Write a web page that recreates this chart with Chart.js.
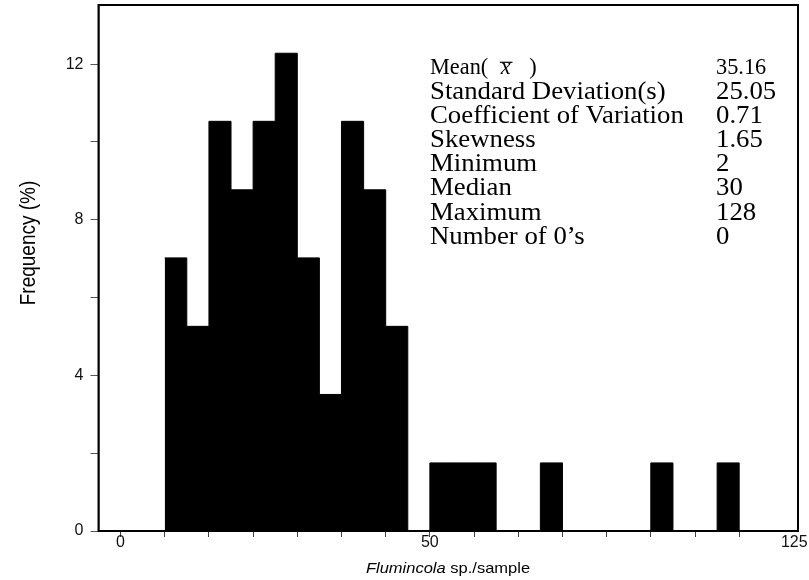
<!DOCTYPE html>
<html>
<head>
<meta charset="utf-8">
<script src="https://cdn.jsdelivr.net/npm/chart.js@4.4.0/dist/chart.umd.min.js"></script>
<style>
  html, body { margin: 0; padding: 0; background: #fff; }
  #wrap { width: 809px; height: 580px; }
</style>
</head>
<body>
<div id="wrap"><canvas id="histChart" width="809" height="580"></canvas></div>
<script>
// --- values ---
// left edge of each bin (x units) and its frequency (%); last edge closes the last bin
const binEdges = [7.14, 10.71, 14.29, 17.86, 21.43, 25.00, 28.57, 32.14, 35.71, 39.29, 42.86, 46.43,
  50.00, 53.57, 57.14, 60.71, 64.29, 67.86, 71.43, 75.00, 78.57, 82.14, 85.71, 89.29, 92.86, 96.43, 100.00];
const binFreq = [7.02, 5.26, 10.53, 8.77, 10.53, 12.28, 7.02, 3.51, 10.53, 8.77, 5.26, 0,
  1.75, 1.75, 1.75, 0, 0, 1.75, 0, 0, 0, 0, 1.75, 0, 0, 1.75, 0];

// axis ticks (the original labels its right end "125")
const xTickValues = [0, 7.14, 14.29, 21.43, 28.57, 35.71, 42.86, 50, 57.14, 64.29, 71.43, 78.57, 85.71, 92.86, 100, 108.9];
const xTickLabels = ["0", "", "", "", "", "", "", "50", "", "", "", "", "", "", "", "125"];
const yTickValues = [0, 2, 4, 6, 8, 10, 12];
const yTickLabels = ["0", "", "4", "", "8", "", "12"];

// summary statistics box
const statLabels = ["Mean(", "Standard Deviation(s)", "Coefficient of Variation", "Skewness",
  "Minimum", "Median", "Maximum", "Number of 0\u2019s"];
const statValues = ["35.16", "25.05", "0.71", "1.65", "2", "30", "128", "0"];

const SANS = '"Liberation Sans", Arial, sans-serif';
const SERIF = '"Liberation Serif", "Times New Roman", serif';

// frame, stats text and axis titles
const decorations = {
  id: "decorations",
  afterDraw(chart) {
    const ctx = chart.ctx;
    const a = chart.chartArea;
    ctx.save();

    // box round the plot
    ctx.strokeStyle = "#000";
    ctx.lineWidth = 2;
    ctx.strokeRect(a.left, a.top, a.right - a.left, a.bottom - a.top);

    // stats block
    ctx.fillStyle = "#000";
    ctx.textBaseline = "alphabetic";
    statLabels.forEach((label, i) => {
      const y = 74.3 + i * 24.2;
      const size = i === 0 ? 23 : 25.5;
      const sx = i === 0 ? 0.97 : 1.05;

      ctx.save();
      ctx.translate(430, y);
      ctx.scale(sx, 1);
      ctx.font = size + "px " + SERIF;
      ctx.fillText(label, 0, 0);
      if (i === 0) {
        const w = ctx.measureText(label).width;
        ctx.font = "italic " + size + "px " + SERIF;
        const xw = ctx.measureText("x").width;
        ctx.fillText("x", w + 13, 0);
        ctx.beginPath();
        ctx.lineWidth = 1.2;
        ctx.moveTo(w + 12, -12);
        ctx.lineTo(w + 25, -12);
        ctx.stroke();
        ctx.font = size + "px " + SERIF;
        ctx.fillText(")", w + 13 + xw + 19, 0);
      }
      ctx.restore();

      ctx.save();
      ctx.translate(716, y);
      ctx.scale(sx, 1);
      ctx.font = size + "px " + SERIF;
      ctx.fillText(statValues[i], 0, 0);
      ctx.restore();
    });

    // x axis title: italic genus + plain rest
    ctx.save();
    ctx.translate(448, 573);
    ctx.scale(1.1, 1);
    ctx.font = "italic 15px " + SANS;
    const genus = "Flumincola";
    const gw = ctx.measureText(genus).width;
    ctx.font = "15px " + SANS;
    const rest = " sp./sample";
    const rw = ctx.measureText(rest).width;
    const x0 = -(gw + rw) / 2;
    ctx.font = "italic 15px " + SANS;
    ctx.fillText(genus, x0, 0);
    ctx.font = "15px " + SANS;
    ctx.fillText(rest, x0 + gw, 0);
    ctx.restore();

    // y axis title
    ctx.save();
    ctx.translate(35, 243);
    ctx.rotate(-Math.PI / 2);
    ctx.scale(1, 1.15);
    ctx.textAlign = "center";
    ctx.font = "19px " + SANS;
    ctx.fillText("Frequency (%)", 0, 0);
    ctx.restore();

    ctx.restore();
  },
};

new Chart(document.getElementById("histChart"), {
  type: "line",
  data: {
    datasets: [
      {
        data: binEdges.map((x, i) => ({ x: x, y: binFreq[i] })),
        stepped: "before",
        fill: "origin",
        backgroundColor: "#000",
        borderColor: "#000",
        borderWidth: 1,
        pointRadius: 0,
      },
    ],
  },
  options: {
    responsive: false,
    animation: false,
    devicePixelRatio: 1,
    layout: { padding: { top: 5, right: 11, left: 0, bottom: 0 } },
    plugins: {
      legend: { display: false },
      tooltip: { enabled: false },
    },
    scales: {
      x: {
        type: "linear",
        min: -3.56,
        max: 109.5,
        afterBuildTicks: (s) => {
          s.ticks = xTickValues.map((v) => ({ value: v }));
        },
        afterFit: (s) => {
          s.height = 49;
          s.paddingLeft = 0;
          s.paddingRight = 0;
        },
        ticks: {
          autoSkip: false,
          maxRotation: 0,
          padding: -2,
          color: "#111",
          font: { family: SANS, size: 16, lineHeight: 1 },
          callback: (v, i) => xTickLabels[i],
        },
        grid: {
          drawOnChartArea: false,
          drawTicks: true,
          tickLength: 6,
          tickColor: (c) => (c.tick && c.tick.value > 105 ? "rgba(0,0,0,0)" : "#444"),
        },
        border: { display: true, color: "#000", width: 1.5 },
      },
      y: {
        min: 0,
        max: 13.52,
        afterBuildTicks: (s) => {
          s.ticks = yTickValues.map((v) => ({ value: v }));
        },
        afterFit: (s) => {
          s.width = 98.5;
          s.paddingTop = 0;
          s.paddingBottom = 0;
        },
        ticks: {
          autoSkip: false,
          padding: 7,
          color: "#111",
          font: { family: SANS, size: 16 },
          callback: (v, i) => yTickLabels[i],
        },
        grid: {
          drawOnChartArea: false,
          drawTicks: true,
          tickLength: 8,
          tickColor: "#555",
        },
        border: { display: true, color: "#000", width: 1.5 },
      },
    },
  },
  plugins: [decorations],
});
</script>
</body>
</html>
